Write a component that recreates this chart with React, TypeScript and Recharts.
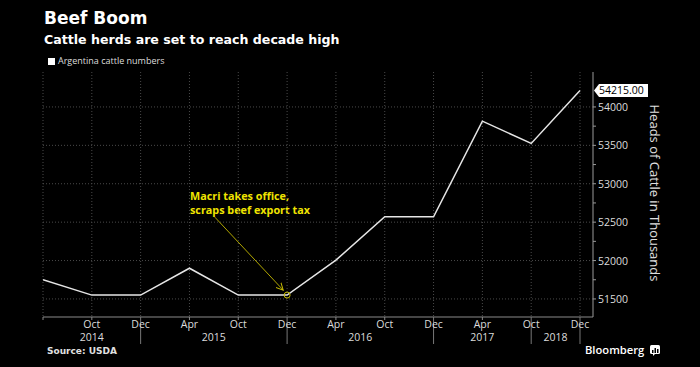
import React from "react";
import {
  LineChart,
  Line,
  XAxis,
  YAxis,
  CartesianGrid,
  ReferenceDot,
  ReferenceLine,
} from "recharts";

const monthLabels = ["", "Oct", "Dec", "Apr", "Oct", "Dec", "Apr", "Oct", "Dec", "Apr", "Oct", "Dec"];
const cattle = [51750, 51550, 51550, 51900, 51550, 51550, 52005, 52570, 52570, 53815, 53525, 54215];
const yearSeparators = [2, 5, 8, 10, 11];
const yearLabels = ["2014", "2015", "2016", "2017", "2018"];
const yearPositions = [1, 3.5, 6.5, 9, 10.5];
const yMajorTicks = [51500, 52000, 52500, 53000, 53500, 54000];
const yMinorTicks = [51750, 52250, 52750, 53250, 53750];
const annotationIndex = 5;
const arrowFrom = { x: 3.52, y: 52565 };
const arrowTo = { x: 4.92, y: 51615 };

const data = cattle.map((v, i) => ({ i, v }));
const lastValue = cattle[cattle.length - 1];
const xTicks = monthLabels.map((_, i) => i);
const yTicks = [...yMajorTicks, ...yMinorTicks, lastValue];

const tickFont = "'Open Sans', 'DejaVu Sans', sans-serif";
const boldFont = "'DejaVu Sans', sans-serif";

const MonthTick = (props: any) => {
  const { x, y, payload } = props;
  const idx = payload.value as number;
  const sep = yearSeparators.includes(idx);
  return (
    <g>
      <line x1={x} y1={y} x2={x} y2={y + (sep ? 27 : 3)} stroke={sep ? "#777" : "#888"} strokeWidth={1} />
      <text x={x} y={y + 11} textAnchor="middle" fill="#dcdcdc" fontSize={10.5} fontFamily={tickFont}>
        {monthLabels[idx]}
      </text>
    </g>
  );
};

const YearTick = (props: any) => {
  const { x, y, payload } = props;
  const k = yearPositions.indexOf(payload.value as number);
  return (
    <text x={x} y={y + 10} textAnchor="middle" fill="#dcdcdc" fontSize={10.5} fontFamily={tickFont}>
      {yearLabels[k]}
    </text>
  );
};

const ValueTick = (props: any) => {
  const { x, y, payload } = props;
  const v = payload.value as number;
  if (v === lastValue) {
    return (
      <g>
        <polygon
          points={`${x + 1},${y} ${x + 6},${y - 6.5} ${x + 55},${y - 6.5} ${x + 55},${y + 6.5} ${x + 6},${y + 6.5}`}
          fill="#fff"
        />
        <text x={x + 6} y={y + 4} fill="#000" fontSize={10.5} fontFamily={tickFont}>
          {v.toFixed(2)}
        </text>
      </g>
    );
  }
  const major = yMajorTicks.includes(v);
  return (
    <g>
      <line x1={x} y1={y} x2={x + 3} y2={y} stroke="#999" strokeWidth={1} />
      {major && (
        <text x={x + 5} y={y + 4} fill="#dcdcdc" fontSize={10.5} fontFamily={tickFont}>
          {v}
        </text>
      )}
    </g>
  );
};

export default function App() {
  return (
    <div
      style={{
        position: "absolute",
        left: 0,
        top: 0,
        width: 700,
        height: 367,
        background: "#000",
        overflow: "hidden",
      }}
    >
      <div style={{ position: "absolute", left: 44, top: 8, color: "#fff", fontFamily: boldFont, fontWeight: 700, fontSize: 17, lineHeight: "20px" }}>
        Beef Boom
      </div>
      <div style={{ position: "absolute", left: 44, top: 32, color: "#fff", fontFamily: boldFont, fontWeight: 700, fontSize: 12.6, lineHeight: "16px" }}>
        Cattle herds are set to reach decade high
      </div>
      <div style={{ position: "absolute", left: 48, top: 54, color: "#ddd", fontFamily: tickFont, fontSize: 9, lineHeight: "14px", display: "flex", alignItems: "center" }}>
        <span style={{ display: "inline-block", width: 7, height: 7, background: "#fff", marginRight: 3 }} />
        Argentina cattle numbers
      </div>
      <div style={{ position: "absolute", left: 190, top: 189, color: "#f0e400", fontFamily: tickFont, fontWeight: 700, fontSize: 10.8, lineHeight: "14px", whiteSpace: "nowrap" }}>
        Macri takes office,
        <br />
        scraps beef export tax
      </div>
      <div
        style={{
          position: "absolute",
          left: 655,
          top: 193,
          transform: "translate(-50%, -50%) rotate(90deg)",
          color: "#e0e0e0",
          fontFamily: tickFont,
          fontSize: 13,
          whiteSpace: "nowrap",
        }}
      >
        Heads of Cattle in Thousands
      </div>
      <div style={{ position: "absolute", left: 47, top: 344, color: "#e0e0e0", fontFamily: boldFont, fontWeight: 700, fontSize: 9, lineHeight: "14px" }}>
        Source: USDA
      </div>
      <div style={{ position: "absolute", left: 585, top: 342, color: "#fff", fontFamily: tickFont, fontWeight: 600, fontSize: 11.2, lineHeight: "16px", display: "flex", alignItems: "center" }}>
        Bloomberg
        <svg width={10} height={11} style={{ marginLeft: 6 }}>
          <rect x={0} y={0} width={10} height={9} rx={1.5} fill="#fff" />
          <polygon points="3,9 5,9 3,11" fill="#fff" />
          <rect x={2} y={5} width={1.5} height={3} fill="#000" />
          <rect x={4.5} y={3} width={1.5} height={5} fill="#000" />
          <rect x={7} y={4} width={1.5} height={4} fill="#000" />
        </svg>
      </div>
      <LineChart
        width={700}
        height={367}
        data={data}
        margin={{ top: 72, right: 0, bottom: 16, left: 43 }}
        style={{ position: "absolute", left: 0, top: 0 }}
      >
        <defs>
          <marker id="arrowHead" markerWidth={8} markerHeight={8} refX={7} refY={4} orient="auto" markerUnits="userSpaceOnUse">
            <path d="M0,0.5 L7,4 L0,7.5" fill="none" stroke="#c8bc00" strokeWidth={1} />
          </marker>
        </defs>
        <CartesianGrid
          stroke="#4a4a4a"
          strokeDasharray="1 2"
          horizontalValues={yMajorTicks}
          verticalValues={xTicks}
        />
        <XAxis
          dataKey="i"
          type="number"
          domain={[0, 11.266]}
          ticks={xTicks}
          interval={0}
          height={14}
          tickSize={0}
          tickMargin={0}
          axisLine={{ stroke: "#8a8a8a" }}
          tickLine={false}
          tick={<MonthTick />}
          allowDataOverflow
        />
        <XAxis
          xAxisId="yr"
          dataKey="i"
          type="number"
          domain={[0, 11.266]}
          ticks={yearPositions}
          interval={0}
          height={20}
          tickSize={0}
          tickMargin={0}
          axisLine={false}
          tickLine={false}
          tick={<YearTick />}
          allowDataOverflow
        />
        <YAxis
          orientation="right"
          type="number"
          domain={[51265, 54455]}
          ticks={yTicks}
          interval={0}
          width={107}
          tickSize={0}
          tickMargin={0}
          axisLine={{ stroke: "#9a9a9a" }}
          tickLine={false}
          tick={<ValueTick />}
          allowDataOverflow
        />
        <ReferenceLine
          segment={[arrowFrom, arrowTo]}
          stroke="#b0a600"
          strokeWidth={1}
          ifOverflow="visible"
          markerEnd="url(#arrowHead)"
        />
        <Line
          dataKey="v"
          stroke="#e6e6e6"
          strokeWidth={1.5}
          dot={false}
          isAnimationActive={false}
        />
        <ReferenceDot
          x={annotationIndex}
          y={cattle[annotationIndex]}
          r={3}
          fill="none"
          stroke="#c8bc00"
          strokeWidth={1}
          ifOverflow="visible"
        />
      </LineChart>
    </div>
  );
}
